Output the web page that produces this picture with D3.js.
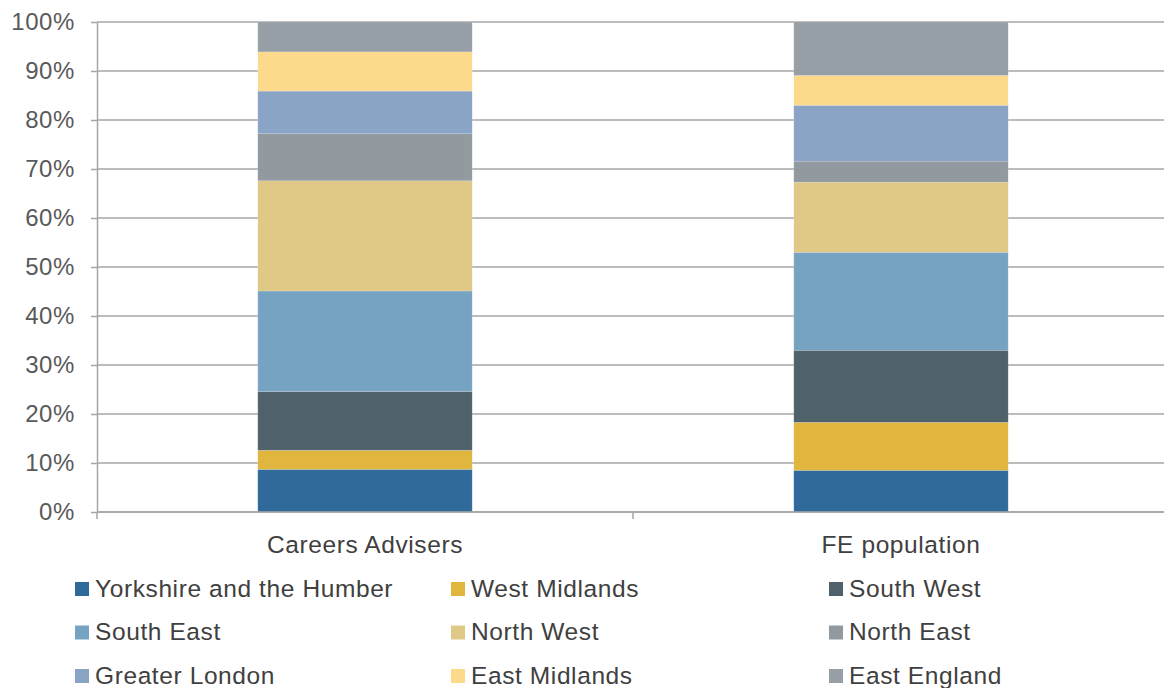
<!DOCTYPE html>
<html>
<head>
<meta charset="utf-8">
<script src="https://cdn.jsdelivr.net/npm/d3@7"></script>
<style>
    body { margin: 0; background: #fff; }
    text { font-family: "Liberation Sans", Arial, sans-serif; letter-spacing: 0.6px; }
</style>
</head>
<body>
<script>
// data (shares in %, bottom to top)
var categories = ["Careers Advisers", "FE population"];
var regions = ["Yorkshire and the Humber", "West Midlands", "South West",
    "South East", "North West", "North East",
    "Greater London", "East Midlands", "East England"];
var careersAdvisers = [8.7, 3.9, 12.0, 20.5, 22.5, 9.6, 8.7, 8.0, 6.1];
var fePopulation = [8.5, 9.8, 14.7, 20.0, 14.3, 4.3, 11.4, 6.1, 10.9];
var yTicks = [0, 10, 20, 30, 40, 50, 60, 70, 80, 90, 100];
var colors = ["#2f6a9a", "#e1b63f", "#4f616b", "#77a3c2", "#e0c987",
    "#92999f", "#8aa4c6", "#fdd98c", "#979fa6"];

var width = 1164;
var height = 688;

var margin = { top: 22, left: 97, right: -5, bottom: 176 };

var svg = d3.select("body")
    .append("svg")
    .attr("width", width)
    .attr("height", height);

var x = d3.scaleBand()
    .domain(categories)
    .range([margin.left, width - margin.right])
    .paddingInner(0.6)
    .paddingOuter(0.3);

var y = d3.scaleLinear()
    .domain([0, 100])
    .range([height - margin.bottom, margin.top]);

var color = d3.scaleOrdinal().domain(regions).range(colors);

// build table for the stack
var table = categories.map(function (c, i) {
    var row = { category: c };
    var vals = i == 0 ? careersAdvisers : fePopulation;
    regions.forEach(function (r, j) { row[r] = vals[j]; });
    return row;
});
var series = d3.stack().keys(regions)(table);

// gridlines
svg.append("g")
    .selectAll("line")
    .data(yTicks)
    .enter().append("line")
    .attr("x1", margin.left)
    .attr("x2", width)
    .attr("y1", function (d) { return y(d); })
    .attr("y2", function (d) { return y(d); })
    .attr("stroke", "#a6a6a6")
    .attr("stroke-width", 1.5);

// bars
svg.append("g")
    .selectAll("g")
    .data(series)
    .enter().append("g")
    .attr("fill", function (d) { return color(d.key); })
    .selectAll("rect")
    .data(function (d) { return d; })
    .enter().append("rect")
    .attr("x", function (d) { return x(d.data.category); })
    .attr("width", x.bandwidth())
    .attr("y", function (d) { return y(d[1]); })
    .attr("height", function (d) { return y(d[0]) - y(d[1]); })
    .attr("stroke", "rgba(255,255,255,0.25)")
    .attr("stroke-width", 0.6);

// y axis
var yAxis = svg.append("g")
    .attr("transform", "translate(" + margin.left + ",0)")
    .call(d3.axisLeft(y)
        .tickValues(yTicks)
        .tickFormat(function (d) { return d + "%"; })
        .tickSize(6)
        .tickSizeOuter(0)
        .tickPadding(16));
yAxis.select(".domain").attr("stroke", "#a6a6a6").attr("stroke-width", 1.5);
yAxis.selectAll(".tick line").attr("stroke", "#a6a6a6").attr("stroke-width", 1.5);
yAxis.selectAll(".tick text")
    .attr("fill", "#595959")
    .style("font-size", "24px");

// x axis line and ticks between categories
var x0 = y(0);
svg.append("line")
    .attr("x1", margin.left).attr("x2", width)
    .attr("y1", x0).attr("y2", x0)
    .attr("stroke", "#a6a6a6").attr("stroke-width", 1.5);
var step = x.step();
svg.append("g")
    .selectAll("line")
    .data([0, 1, 2])
    .enter().append("line")
    .attr("x1", function (d) { return margin.left + d * step; })
    .attr("x2", function (d) { return margin.left + d * step; })
    .attr("y1", x0)
    .attr("y2", x0 + 7)
    .attr("stroke", "#a6a6a6").attr("stroke-width", 1.5);

svg.append("g")
    .selectAll("text")
    .data(categories)
    .enter().append("text")
    .attr("x", function (d) { return x(d) + x.bandwidth() / 2; })
    .attr("y", x0 + 32)
    .attr("dy", "0.35em")
    .attr("text-anchor", "middle")
    .attr("fill", "#404040")
    .style("font-size", "24.5px")
    .text(function (d) { return d; });

// legend, 3 columns
var legendX = [75, 451, 829];
var legendY = [588, 631.5, 675];
var legend = svg.append("g")
    .selectAll("g")
    .data(regions)
    .enter().append("g")
    .attr("transform", function (d, i) {
        return "translate(" + legendX[i % 3] + "," + legendY[Math.floor(i / 3)] + ")";
    });

legend.append("rect")
    .attr("x", 0)
    .attr("y", -6)
    .attr("width", 14)
    .attr("height", 14)
    .attr("fill", function (d) { return color(d); });

legend.append("text")
    .attr("x", 20)
    .attr("y", 0)
    .attr("dy", "0.35em")
    .attr("fill", "#404040")
    .style("font-size", "24.5px")
    .text(function (d) { return d; });
</script>
</body>
</html>
